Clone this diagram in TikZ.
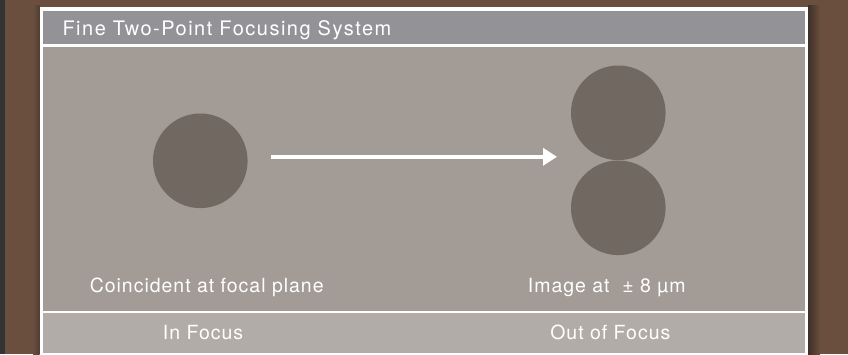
\documentclass[tikz,border=0pt]{standalone}
\usepackage{fontspec}
\setmainfont{TeX Gyre Heros}
\newfontfamily\lblfont[LetterSpace=5]{TeX Gyre Heros}
\newfontfamily\ttlfont[LetterSpace=7.5]{TeX Gyre Heros}
\usetikzlibrary{arrows.meta}
\definecolor{stripc}{HTML}{333333}
\definecolor{brownc}{HTML}{6A4F3E}
\definecolor{shadowc}{HTML}{3E3028}
\definecolor{headc}{HTML}{939297}
\definecolor{bodyc}{HTML}{A29B96}
\definecolor{bandc}{HTML}{B1ACA8}
\definecolor{dotc}{HTML}{716862}
\tikzset{
  spot/.style={circle, fill=dotc, draw=none, inner sep=0pt, minimum size=94.6pt},
  lbl/.style={text=white, inner sep=0pt, font=\lblfont\fontsize{19.5}{22}\selectfont},
  ttl/.style={text=white, inner sep=0pt, font=\ttlfont\fontsize{20}{22}\selectfont},
  arr/.style={draw=white, line width=4pt, -{Triangle[length=14pt,width=17pt]}}
}
\begin{document}
\begin{tikzpicture}[x=1pt,y=-1pt]
\useasboundingbox (0,0) rectangle (848,354);
\fill[brownc] (0,0) rectangle (848,354);
\fill[stripc] (0,0) rectangle (5,354);
% shadows
\shade[left color=shadowc, right color=brownc] (808,5) rectangle (820,354);
\shade[left color=brownc, right color=shadowc!60!brownc] (33,5) rectangle (39.5,354);
% frame
\fill[white] (39.5,7.3) rectangle (808.3,354);
\fill[headc] (42.7,10.7) rectangle (805,44.3);
\fill[bodyc] (42.7,46.7) rectangle (805,311.2);
\fill[bandc] (42.7,313.4) rectangle (805,352.5);
% title
\node[ttl, anchor=base west] (title) at (62.3,35.7) {Fine Two-Point Focusing System};
% spots
\node[spot] (c1) at (200.3,160.8) {};
\node[spot] (c2) at (618.3,112.8) {};
\node[spot] (c3) at (618.3,207.8) {};
% arrow
\coordinate (a0) at (271,156.8);
\coordinate (a1) at (557,156.8);
\draw[arr] (a0) -- (a1);
% captions
\node[lbl, anchor=base] (t1) at (206.7,292.5) {Coincident at focal plane};
\node[lbl, anchor=base] (t2) at (606.7,292.5) {Image at\ \ ± 8 µm};
\node[lbl, anchor=base] (t3) at (203,339.3) {In Focus};
\node[lbl, anchor=base] (t4) at (610.3,339.3) {Out of Focus};
\end{tikzpicture}
\end{document}
